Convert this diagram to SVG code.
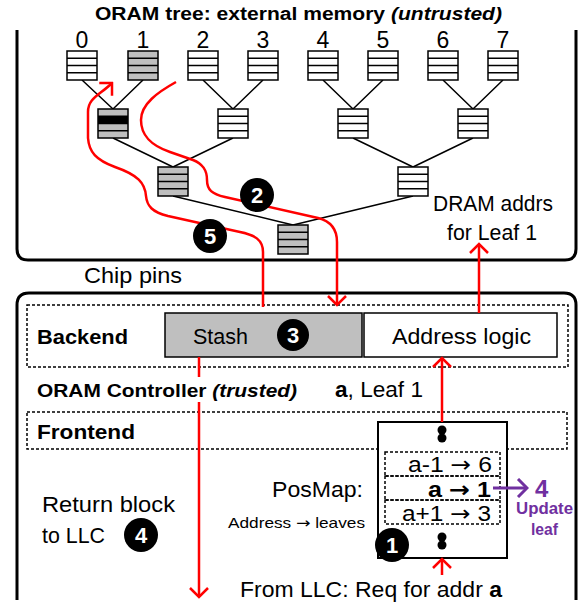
<svg xmlns="http://www.w3.org/2000/svg" xmlns:xlink="http://www.w3.org/1999/xlink" width="587" height="605" viewBox="0 0 587 605">
<style>
text{font-family:"Liberation Sans",Arial,sans-serif;fill:#000}
.t{font-size:22px}
.b{font-weight:bold}
.arw{font-family:"DejaVu Sans",sans-serif}
.frame{fill:none;stroke:#000;stroke-width:3}
.dash{fill:none;stroke:#000;stroke-width:1.5;stroke-dasharray:3 2}
.edge{stroke:#000;stroke-width:1.5;fill:none}
.red{stroke:#ff0000;stroke-width:2.5;fill:none}
.pur{stroke:#7030a0;stroke-width:3;fill:none}
.num{fill:#fff;font-weight:bold;font-size:22px;text-anchor:middle}
.purt{fill:#7030a0;font-weight:bold}
</style>
<defs>
<g id="bw"><rect x="0" y="0" width="30" height="29" fill="#fff" stroke="#000" stroke-width="1.5"/><path d="M0 7.25H30M0 14.5H30M0 21.75H30" stroke="#000" stroke-width="1.5"/></g>
<g id="bg"><rect x="0" y="0" width="30" height="29" fill="#bfbfbf" stroke="#000" stroke-width="1.5"/><path d="M0 7.25H30M0 14.5H30M0 21.75H30" stroke="#000" stroke-width="1.5"/></g>
<marker id="ar" markerUnits="userSpaceOnUse" viewBox="-12 -10 14 20" markerWidth="14" markerHeight="20" refX="0" refY="0" orient="auto"><path d="M-9 -9L0 0L-9 9" fill="none" stroke="#ff0000" stroke-width="2.5"/></marker>
<marker id="ap" markerUnits="userSpaceOnUse" viewBox="-12 -10 14 20" markerWidth="14" markerHeight="20" refX="0" refY="0" orient="auto"><path d="M-9 -9L0 0L-9 9" fill="none" stroke="#7030a0" stroke-width="3"/></marker>
</defs>

<g id="title"><text x="95" y="20" class="b" font-size="18" textLength="407" lengthAdjust="spacingAndGlyphs">ORAM tree: external memory <tspan font-style="italic">(untrusted)</tspan></text></g>

<g id="external-memory"><path class="frame" d="M17 30V249Q17 260 28 260H565Q576 260 576 249V30"/></g>

<g id="tree-edges" class="edge">
<path d="M82 80L113 109M143 80L113 109M203 80L233 109M263 80L233 109M323 80L353 109M383 80L353 109M443 80L473 109M503 80L473 109"/>
<path d="M113 138L173 167M233 138L173 167M353 138L413 167M473 138L413 167"/>
<path d="M173 196L293 225M413 196L293 225"/>
</g>

<g id="leaf-labels" font-size="23" text-anchor="middle">
<text x="82" y="48">0</text><text x="143" y="48">1</text><text x="203" y="48">2</text><text x="263" y="48">3</text>
<text x="323" y="48">4</text><text x="383" y="48">5</text><text x="443" y="48">6</text><text x="503" y="48">7</text>
</g>

<g id="leaf0"><use xlink:href="#bw" x="67" y="51"/></g>
<g id="leaf1"><use xlink:href="#bg" x="128" y="51"/></g>
<g id="leaf2"><use xlink:href="#bw" x="188" y="51"/></g>
<g id="leaf3"><use xlink:href="#bw" x="248" y="51"/></g>
<g id="leaf4"><use xlink:href="#bw" x="308" y="51"/></g>
<g id="leaf5"><use xlink:href="#bw" x="368" y="51"/></g>
<g id="leaf6"><use xlink:href="#bw" x="428" y="51"/></g>
<g id="leaf7"><use xlink:href="#bw" x="488" y="51"/></g>
<g id="l2a"><rect x="98" y="109" width="30" height="29" fill="#bfbfbf"/><rect x="98" y="116.25" width="30" height="7.25" fill="#000"/><rect x="98" y="109" width="30" height="29" fill="none" stroke="#000" stroke-width="1.5"/><path d="M98 116.25H128M98 123.5H128M98 130.75H128" stroke="#000" stroke-width="1.5"/></g>
<g id="l2b"><use xlink:href="#bw" x="218" y="109"/></g>
<g id="l2c"><use xlink:href="#bw" x="338" y="109"/></g>
<g id="l2d"><use xlink:href="#bw" x="458" y="109"/></g>
<g id="l1a"><use xlink:href="#bg" x="158" y="167"/></g>
<g id="l1b"><use xlink:href="#bw" x="398" y="167"/></g>
<g id="root"><use xlink:href="#bg" x="278" y="225"/></g>

<g id="dram-label" class="t"><text x="433" y="211" textLength="120" lengthAdjust="spacingAndGlyphs">DRAM addrs</text><text x="447" y="240" textLength="90" lengthAdjust="spacingAndGlyphs">for Leaf 1</text></g>
<g id="chip-pins" class="t"><text x="84" y="283" textLength="98" lengthAdjust="spacingAndGlyphs">Chip pins</text></g>

<g id="controller">
<path class="frame" d="M17 600V305Q17 293 29 293H564Q576 293 576 305V600"/>
<rect class="dash" x="27" y="305" width="541" height="62"/>
<rect class="dash" x="27" y="412" width="540" height="37"/>
<text x="37" y="397" class="b" font-size="19" textLength="260" lengthAdjust="spacingAndGlyphs">ORAM Controller <tspan font-style="italic">(trusted)</tspan></text>
<text x="335" y="397" class="t" textLength="88" lengthAdjust="spacingAndGlyphs"><tspan class="b">a</tspan>, Leaf 1</text>
</g>
<g id="backend"><text x="37" y="344" class="b" font-size="21" textLength="91" lengthAdjust="spacingAndGlyphs">Backend</text></g>
<g id="frontend"><text x="37" y="439" class="b" font-size="21" textLength="98" lengthAdjust="spacingAndGlyphs">Frontend</text></g>

<g id="stash"><rect x="165" y="313" width="197" height="44" fill="#bfbfbf" stroke="#000" stroke-width="1.5"/><text x="193" y="344" class="t" textLength="55" lengthAdjust="spacingAndGlyphs">Stash</text></g>
<g id="address-logic"><rect x="364" y="313" width="193" height="44" fill="#fff" stroke="#000" stroke-width="1.5"/><text x="392" y="344" class="t" textLength="139" lengthAdjust="spacingAndGlyphs">Address logic</text></g>

<g id="posmap">
<rect x="378" y="422" width="129" height="136" fill="#fff" stroke="#000" stroke-width="2"/>
<circle cx="442" cy="430" r="4.5"/><circle cx="442" cy="438" r="4.5"/>
<circle cx="442" cy="537" r="4.5"/><circle cx="442" cy="545" r="4.5"/>
<rect class="dash" x="385" y="452" width="115" height="24"/>
<rect class="dash" x="385" y="476" width="115" height="24"/>
<rect class="dash" x="385" y="500" width="115" height="24"/>
<text x="408" y="472" class="t" textLength="84" lengthAdjust="spacingAndGlyphs">a-1 <tspan class="arw">→</tspan> 6</text>
<text x="428" y="497" class="t b" textLength="63" lengthAdjust="spacingAndGlyphs">a <tspan class="arw">→</tspan> 1</text>
<text x="402" y="521" class="t" textLength="89" lengthAdjust="spacingAndGlyphs">a+1 <tspan class="arw">→</tspan> 3</text>
</g>
<g id="posmap-label"><text x="272" y="497" class="t" textLength="91" lengthAdjust="spacingAndGlyphs">PosMap:</text><text x="228" y="528" font-size="15" textLength="137" lengthAdjust="spacingAndGlyphs">Address <tspan class="arw">→</tspan> leaves</text></g>
<g id="return-label" class="t"><text x="42" y="512" textLength="133" lengthAdjust="spacingAndGlyphs">Return block</text><text x="42" y="543" textLength="63" lengthAdjust="spacingAndGlyphs">to LLC</text></g>
<g id="llc-label"><text x="240" y="597" class="t" textLength="262" lengthAdjust="spacingAndGlyphs">From LLC: Req for addr <tspan class="b">a</tspan></text></g>
<g id="update-label"><text x="535" y="497" class="purt" font-size="24">4</text><text x="516" y="514" class="purt" font-size="16" textLength="57" lengthAdjust="spacingAndGlyphs">Update</text><text x="531" y="535" class="purt" font-size="16" textLength="27" lengthAdjust="spacingAndGlyphs">leaf</text></g>

<g id="connectors">
<path class="red" marker-end="url(#ar)" d="M263 307V252C263 240 255 235 240 232L168 216C152 212 147 206 146 196C145 183 138 175 115 167C96 160 89 152 88 138V112C88 98 100 95 112 83"/>
<path class="red" marker-end="url(#ar)" d="M176 82C158 92 141 104 141 120C141 135 150 145 170 152L193 160C203 164 207 170 207 180C207 190 212 194 225 197L318 218C330 221 337 228 337 242V305"/>
<path class="red" marker-end="url(#ar)" d="M479 313V244"/>
<path class="red" marker-end="url(#ar)" d="M442 422V358"/>
<path class="red" marker-end="url(#ar)" d="M442 575V559"/>
<path class="red" d="M199 357V377"/>
<path class="red" marker-end="url(#ar)" d="M199 402V597"/>
<path class="pur" marker-end="url(#ap)" d="M493 488H527"/>
</g>

<g id="step1"><circle cx="392" cy="545" r="17"/><text x="392" y="553" class="num">1</text></g>
<g id="step2"><circle cx="257" cy="195" r="17"/><text x="257" y="203" class="num">2</text></g>
<g id="step3"><circle cx="293" cy="335" r="16"/><text x="293" y="343" class="num">3</text></g>
<g id="step4"><circle cx="141" cy="535" r="17"/><text x="141" y="543" class="num">4</text></g>
<g id="step5"><circle cx="210" cy="236" r="17"/><text x="210" y="244" class="num">5</text></g>
</svg>
